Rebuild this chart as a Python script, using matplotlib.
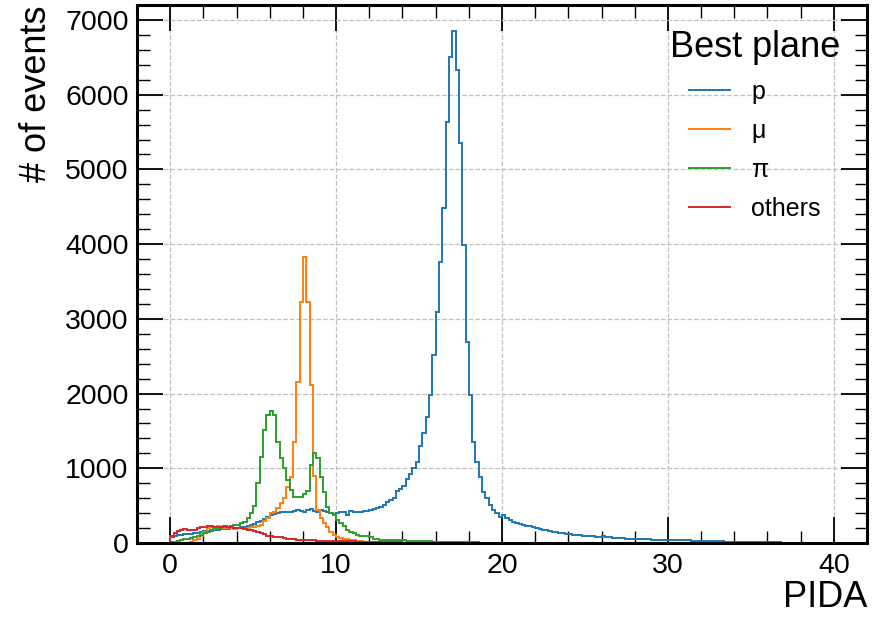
import numpy as np
import matplotlib
matplotlib.use("Agg")
import matplotlib.pyplot as plt
from matplotlib.ticker import MultipleLocator

plt.rcParams['font.family'] = ['Liberation Sans', 'DejaVu Sans']

# ---------------- data ----------------
bin_edges = np.linspace(0, 40, 201)

labels = ["p", "μ", "π", "others"]
colors = ["#1f77b4", "#ff7f0e", "#2ca02c", "#d62728"]

counts_p = [
    80, 95, 105, 110, 115, 118, 122, 128, 135, 145,
    155, 160, 165, 170, 178, 182, 188, 192, 196, 200,
    205, 212, 218, 225, 235, 250, 275, 300, 320, 345,
    370, 390, 400, 410, 420, 420, 410, 430, 440, 430,
    420, 440, 450, 430, 420, 440, 430, 420, 400, 390,
    400, 410, 419, 375, 430, 420, 415, 420, 425, 430,
    440, 450, 465, 480, 510, 550, 575, 600, 690, 720,
    760, 850, 920, 1000, 1088, 1300, 1468, 1690, 1981, 2517,
    3088, 3766, 4485, 5640, 6500, 6850, 6330, 5355, 3990, 2695,
    1981, 1356, 1088, 888, 687, 598, 509, 442, 397, 353,
    375, 330, 305, 285, 270, 258, 245, 232, 222, 212,
    200, 190, 180, 170, 162, 152, 143, 135, 128, 122,
    116, 110, 106, 102, 98, 95, 92, 88, 85, 82,
    95, 78, 74, 70, 67, 64, 62, 60, 58, 56,
    54, 52, 50, 48, 47, 45, 44, 43, 42, 41,
    40, 39, 38, 37, 36, 35, 34, 33, 32, 31,
    30, 28, 27, 25, 24, 22, 21, 20, 19, 18,
    17, 16, 15, 14, 13, 12, 14, 11, 10, 9,
    8, 8, 7, 7, 6, 6, 5, 5, 4, 4,
    4, 3, 3, 3, 2, 2, 2, 2, 1, 1,
]

counts_mu = [
    0, 0, 0, 0, 2, 5, 15, 40, 60, 90,
    150, 196, 210, 215, 225, 215, 205, 210, 200, 190,
    195, 196, 190, 200, 210, 220, 230, 245, 300, 340,
    397, 420, 464, 531, 598, 754, 888, 1356, 2160, 3230,
    3833, 3230, 2115, 900, 440, 330, 262, 218, 151, 110,
    84, 70, 60, 50, 42, 35, 30, 25, 20, 17,
    14, 12, 11, 10, 9, 8, 7, 6, 5, 5,
    4, 4, 3, 3, 3, 2, 2, 2, 2, 1,
    1, 1, 1, 1, 1, 0, 1, 0, 1, 0,
    0, 1, 0, 0, 1, 0, 0, 0, 1, 0,
    0, 0, 0, 0, 0, 0, 0, 0, 0, 0,
    0, 0, 0, 0, 0, 0, 0, 0, 0, 0,
    0, 0, 0, 0, 0, 0, 0, 0, 0, 0,
    0, 0, 0, 0, 0, 0, 0, 0, 0, 0,
    0, 0, 0, 0, 0, 0, 0, 0, 0, 0,
    0, 0, 0, 0, 0, 0, 0, 0, 0, 0,
    0, 0, 0, 0, 0, 0, 0, 0, 0, 0,
    0, 0, 0, 0, 0, 0, 0, 0, 0, 0,
    0, 0, 0, 0, 0, 0, 0, 0, 0, 0,
    0, 0, 0, 0, 0, 0, 0, 0, 0, 0,
]

counts_pi = [
    15, 20, 30, 40, 50, 60, 70, 80, 90, 110,
    130, 150, 170, 190, 200, 210, 215, 215, 225, 235,
    245, 265, 285, 330, 400, 490, 800, 1155, 1513, 1713,
    1767, 1713, 1356, 1133, 1000, 844, 710, 621, 610, 621,
    650, 700, 1044, 1200, 1133, 888, 687, 487, 400, 380,
    308, 270, 228, 174, 152, 140, 107, 100, 94, 90,
    85, 60, 50, 45, 42, 40, 40, 38, 37, 36,
    35, 32, 30, 28, 27, 25, 23, 22, 21, 20,
    18, 16, 15, 14, 13, 12, 11, 10, 9, 8,
    8, 7, 7, 6, 6, 5, 5, 4, 4, 4,
    3, 3, 3, 3, 2, 2, 2, 2, 2, 2,
    2, 1, 2, 1, 1, 1, 2, 1, 1, 1,
    1, 1, 0, 1, 1, 0, 1, 0, 0, 1,
    0, 1, 0, 0, 1, 0, 0, 0, 1, 0,
    0, 0, 0, 1, 0, 0, 0, 0, 0, 0,
    0, 0, 0, 0, 0, 0, 0, 0, 0, 0,
    0, 0, 0, 0, 0, 0, 0, 0, 0, 0,
    0, 0, 0, 0, 0, 0, 0, 0, 0, 0,
    0, 0, 0, 0, 0, 0, 0, 0, 0, 0,
    0, 0, 0, 0, 0, 0, 0, 0, 0, 0,
]

counts_other = [
    90, 140, 155, 180, 185, 170, 170, 175, 200, 210,
    215, 225, 230, 220, 210, 215, 225, 220, 210, 205,
    200, 195, 185, 178, 172, 165, 150, 135, 125, 100,
    92, 85, 80, 75, 62, 55, 50, 48, 46, 44,
    40, 38, 36, 34, 32, 31, 30, 29, 28, 27,
    26, 25, 24, 23, 22, 21, 20, 19, 18, 17,
    16, 15, 14, 13, 12, 11, 10, 9, 8, 7,
    6, 5, 5, 4, 4, 3, 3, 2, 2, 2,
    1, 1, 1, 1, 1, 1, 1, 1, 1, 1,
    0, 0, 0, 0, 0, 0, 0, 0, 0, 0,
    0, 0, 0, 0, 0, 0, 0, 0, 0, 0,
    0, 0, 0, 0, 0, 0, 0, 0, 0, 0,
    0, 0, 0, 0, 0, 0, 0, 0, 0, 0,
    0, 0, 0, 0, 0, 0, 0, 0, 0, 0,
    0, 0, 0, 0, 0, 0, 0, 0, 0, 0,
    0, 0, 0, 0, 0, 0, 0, 0, 0, 0,
    0, 0, 0, 0, 0, 0, 0, 0, 0, 0,
    0, 0, 0, 0, 0, 0, 0, 0, 0, 0,
    0, 0, 0, 0, 0, 0, 0, 0, 0, 0,
    0, 0, 0, 0, 0, 0, 0, 0, 0, 0,
]

series = [counts_p, counts_mu, counts_pi, counts_other]
for s in series:
    assert len(s) == len(bin_edges) - 1

# ---------------- plot ----------------
fig = plt.figure(figsize=(8.76, 6.17), dpi=100)
ax = fig.add_axes([137 / 876, 1 - 543 / 617, (867 - 137) / 876, (543 - 5) / 617])

for vals, lab, col in zip(series, labels, colors):
    ax.stairs(vals, bin_edges, label=lab, color=col, lw=1.4)

ax.set_xlim(-2, 42)
ax.set_ylim(0, 7200)
ax.xaxis.set_major_locator(MultipleLocator(10))
ax.xaxis.set_minor_locator(MultipleLocator(2))
ax.yaxis.set_major_locator(MultipleLocator(1000))
ax.yaxis.set_minor_locator(MultipleLocator(200))

ax.tick_params(which='both', direction='in', top=True, right=True, labelsize=20.5)
ax.tick_params(which='major', length=19, width=1.3)
ax.tick_params(which='minor', length=9, width=1.0)
ax.tick_params(axis='x', which='major', pad=7)
ax.tick_params(axis='y', which='major', pad=6)
for sp in ax.spines.values():
    sp.set_linewidth(2.2)

ax.grid(True, which='major', ls='--', color='#c0c0c0', lw=0.9)
ax.set_axisbelow(True)

ax.set_xlabel('PIDA', fontsize=26, loc='right', labelpad=1)
ax.set_ylabel('# of events', fontsize=26, loc='top', labelpad=8)

ax.legend(title='Best plane', fontsize=18, title_fontsize=26, frameon=False,
          loc='upper right', bbox_to_anchor=(0.994, 0.996),
          handlelength=1.65, handletextpad=0.85, labelspacing=0.6)

fig.savefig('out.png', dpi=100)
